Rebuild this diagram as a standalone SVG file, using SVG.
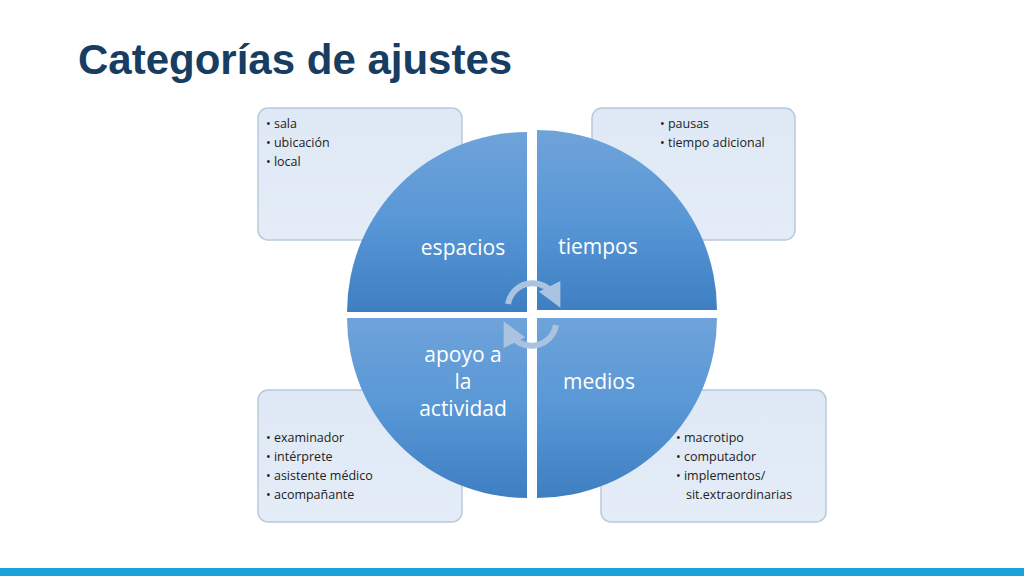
<svg xmlns="http://www.w3.org/2000/svg" width="1024" height="576" viewBox="0 0 1024 576">
<defs>
<linearGradient id="q" x1="0" y1="0" x2="0" y2="1"><stop offset="0" stop-color="#6fa3da"/><stop offset="0.5" stop-color="#5897d6"/><stop offset="1" stop-color="#3e7fc2"/></linearGradient>
<linearGradient id="b" x1="0" y1="0" x2="0" y2="1"><stop offset="0" stop-color="#dfe9f5"/><stop offset="1" stop-color="#e3ecf7"/></linearGradient>
<marker id="ah" viewBox="0 0 10 10" refX="5" refY="5" markerWidth="4" markerHeight="4" orient="auto"><path d="M0,0 L10,5 L0,10 z" fill="#a9c3e0"/></marker>
</defs>
<style>
.box{fill:url(#b);stroke:#b9c9dc;stroke-width:1.5}
.q{fill:url(#q)}
.lab{font-family:"Open Sans","Noto Sans",sans-serif;font-size:21px;fill:#fff;text-anchor:middle}
.bl{font-family:"Open Sans","Noto Sans",sans-serif;font-size:12.5px;fill:#222}
.arc{fill:none;stroke:#a9c3e0;stroke-width:6;marker-end:url(#ah)}
</style>
<rect width="1024" height="576" fill="#fff"/>
<text x="78" y="74" font-family="'Liberation Sans',Arial,sans-serif" font-weight="bold" font-size="42" fill="#173d63">Categorías de ajustes</text>
<rect x="0" y="568" width="1024" height="8" fill="#1aa3d9"/>
<g id="box-espacios"><rect class="box" x="258" y="108" width="204" height="132" rx="10"/>
<text class="bl" x="266" y="128">• sala</text><text class="bl" x="266" y="147">• ubicación</text><text class="bl" x="266" y="166">• local</text></g>
<g id="box-tiempos"><rect class="box" x="592" y="108" width="203" height="132" rx="10"/>
<text class="bl" x="660" y="128">• pausas</text><text class="bl" x="660" y="147">• tiempo adicional</text></g>
<g id="box-apoyo"><rect class="box" x="258" y="390" width="204" height="132" rx="10"/>
<text class="bl" x="266" y="442">• examinador</text><text class="bl" x="266" y="461">• intérprete</text><text class="bl" x="266" y="480">• asistente médico</text><text class="bl" x="266" y="499">• acompañante</text></g>
<g id="box-medios"><rect class="box" x="601" y="390" width="225" height="132" rx="10"/>
<text class="bl" x="676" y="442">• macrotipo</text><text class="bl" x="676" y="461">• computador</text><text class="bl" x="676" y="480">• implementos/</text><text class="bl" x="686" y="499">sit.extraordinarias</text></g>
<g id="espacios"><path class="q" d="M527,312 L347,312 A180,180 0 0 1 527,132 Z"/><text class="lab" x="463" y="255">espacios</text></g>
<g id="tiempos"><path class="q" d="M537,310 L537,130 A180,180 0 0 1 717,310 Z"/><text class="lab" x="598" y="254">tiempos</text></g>
<g id="apoyo"><path class="q" d="M527,318 L527,498 A180,180 0 0 1 347,318 Z"/><text class="lab" x="463" y="362">apoyo a</text><text class="lab" x="463" y="389">la</text><text class="lab" x="463" y="416">actividad</text></g>
<g id="medios"><path class="q" d="M537,318 L717,318 A180,180 0 0 1 537,498 Z"/><text class="lab" x="599" y="389">medios</text></g>
<g id="connectors">
<path class="arc" d="M508,304 A25,25 0 0 1 555,297"/>
<path class="arc" d="M556,325 A25,25 0 0 1 509,332"/>
</g>
</svg>
